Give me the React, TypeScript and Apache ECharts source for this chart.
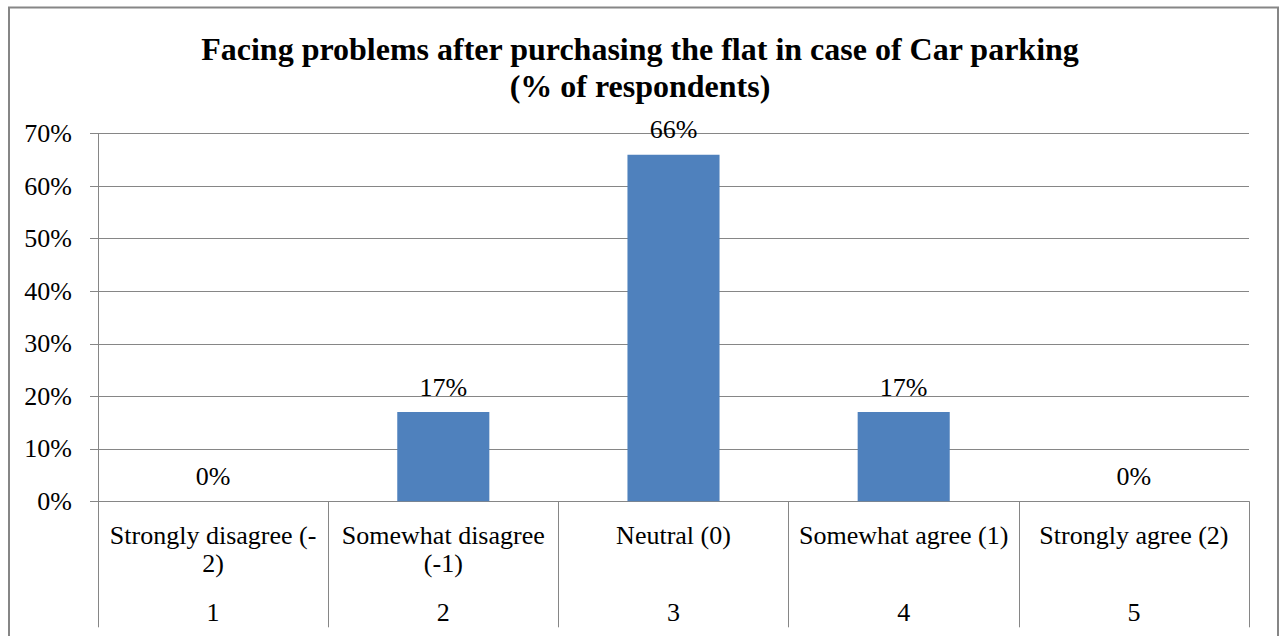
import { useEffect, useRef } from "react";
import * as echarts from "echarts";

// Response categories (line breaks as laid out under the axis)
const categories = [
  "Strongly disagree (-\n2)",
  "Somewhat disagree\n(-1)",
  "Neutral (0)",
  "Somewhat agree (1)",
  "Strongly agree (2)",
];
// Scale codes printed under each category
const categoryCodes = ["1", "2", "3", "4", "5"];
// Share of respondents per category
const respondentShare = [0, 0.17, 0.66, 0.17, 0];

const TITLE = "Facing problems after purchasing the flat in case of Car parking\n(% of respondents)";
const SERIF = "Liberation Serif, Times New Roman, serif";
const GREY = "#868686";

const pct = (v: number) => `${Math.round(v * 100)}%`;

export default function App() {
  const ref = useRef<HTMLDivElement>(null);

  useEffect(() => {
    if (!ref.current) return;
    const chart = echarts.init(ref.current, undefined, { renderer: "svg" });
    chart.setOption({
      animation: false,
      backgroundColor: "#ffffff",
      textStyle: { fontFamily: SERIF },
      title: {
        text: TITLE,
        left: "center",
        top: 25,
        // uneven side padding centres the title on the framed area
        padding: [5, 5, 5, 11],
        textStyle: {
          fontFamily: SERIF,
          fontWeight: "bold",
          fontSize: 32,
          lineHeight: 37,
          color: "#000000",
        },
      },
      graphic: [
        {
          type: "rect",
          shape: { x: 9, y: 7.5, width: 1269, height: 700 },
          style: { fill: "none", stroke: GREY, lineWidth: 2 },
          silent: true,
        },
      ],
      grid: { left: 98, right: 31, top: 133.7, bottom: 134.7, containLabel: false },
      xAxis: [
        {
          type: "category",
          data: categories,
          boundaryGap: true,
          axisLine: { show: true, lineStyle: { color: GREY, width: 1 } },
          axisTick: {
            show: true,
            interval: 0,
            alignWithLabel: false,
            length: 126,
            lineStyle: { color: GREY, width: 1 },
          },
          axisLabel: {
            interval: 0,
            margin: 20,
            fontFamily: SERIF,
            fontSize: 26,
            lineHeight: 28,
            color: "#000000",
            align: "center",
          },
        },
        {
          type: "category",
          data: categoryCodes,
          position: "bottom",
          boundaryGap: true,
          axisLine: { show: false },
          axisTick: { show: false },
          axisLabel: {
            interval: 0,
            margin: 97,
            fontFamily: SERIF,
            fontSize: 26,
            lineHeight: 28,
            color: "#000000",
          },
        },
      ],
      yAxis: {
        type: "value",
        min: 0,
        max: 0.7,
        interval: 0.1,
        axisLine: { show: true, lineStyle: { color: GREY, width: 1 } },
        axisTick: { show: true, length: 8, lineStyle: { color: GREY, width: 1 } },
        splitLine: { show: true, lineStyle: { color: GREY, width: 1 } },
        axisLabel: {
          formatter: (v: number) => pct(v),
          margin: 26,
          fontFamily: SERIF,
          fontSize: 26,
          color: "#000000",
        },
      },
      series: [
        {
          type: "bar",
          data: respondentShare,
          xAxisIndex: 0,
          barWidth: "40%",
          itemStyle: { color: "#4F81BD" },
          label: {
            show: true,
            position: "top",
            distance: 12,
            formatter: (p: any) => pct(p.value),
            fontFamily: SERIF,
            fontSize: 26,
            color: "#000000",
          },
        },
      ],
    });
    return () => chart.dispose();
  }, []);

  return (
    <div
      ref={ref}
      style={{ position: "absolute", left: 0, top: 0, width: 1280, height: 636 }}
    />
  );
}
